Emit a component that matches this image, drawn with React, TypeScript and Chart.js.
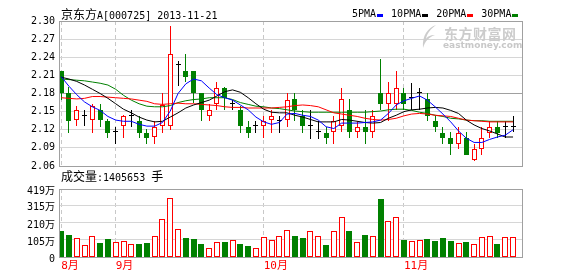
import React, { useEffect, useRef } from 'react';
import { Chart, registerables } from 'chart.js';

Chart.register(...registerables);

const stockTitleCn = '京东方';
const stockTitleCode = 'A[000725] 2013-11-21';
const volumeCaptionCn = '成交量';
const volumeCaptionValue = ':1405653 ';
const volumeCaptionUnit = '手';
const maNames = ['5PMA', '10PMA', '20PMA', '30PMA'];
const maColors = ['#0000ff', '#000000', '#ff0000', '#008000'];

const opens = [2.218,2.181,2.136,2.143,2.136,2.153,2.134,2.116,2.126,2.143,2.134,2.115,2.108,2.126,2.126,2.227,2.218,2.218,2.181,2.143,2.162,2.189,2.163,2.153,2.125,2.126,2.126,2.136,2.135,2.136,2.171,2.143,2.126,2.116,2.115,2.116,2.126,2.153,2.116,2.125,2.116,2.181,2.162,2.162,2.180,2.172,2.181,2.171,2.134,2.115,2.106,2.097,2.106,2.070,2.088,2.115,2.125,2.125,2.125];
const highs = [2.218,2.190,2.160,2.153,2.163,2.163,2.137,2.124,2.145,2.153,2.143,2.121,2.134,2.181,2.292,2.234,2.246,2.218,2.181,2.163,2.199,2.190,2.170,2.160,2.134,2.134,2.143,2.153,2.143,2.180,2.181,2.153,2.153,2.134,2.124,2.143,2.189,2.171,2.134,2.153,2.153,2.237,2.199,2.218,2.189,2.198,2.189,2.181,2.143,2.124,2.116,2.124,2.116,2.097,2.124,2.134,2.134,2.134,2.143];
const lows = [2.170,2.115,2.126,2.126,2.115,2.124,2.107,2.096,2.107,2.124,2.107,2.096,2.096,2.115,2.120,2.192,2.199,2.164,2.134,2.134,2.153,2.153,2.153,2.115,2.107,2.115,2.107,2.115,2.115,2.125,2.134,2.115,2.105,2.105,2.097,2.097,2.116,2.107,2.107,2.097,2.107,2.153,2.134,2.153,2.153,2.153,2.153,2.134,2.116,2.097,2.079,2.088,2.079,2.069,2.079,2.106,2.107,2.107,2.116];
const closes = [2.181,2.135,2.152,2.143,2.160,2.136,2.115,2.116,2.142,2.143,2.115,2.107,2.125,2.161,2.246,2.227,2.207,2.181,2.153,2.153,2.189,2.173,2.163,2.126,2.115,2.126,2.134,2.143,2.135,2.170,2.153,2.126,2.126,2.116,2.107,2.134,2.171,2.116,2.125,2.116,2.143,2.162,2.180,2.189,2.162,2.172,2.181,2.143,2.125,2.107,2.097,2.115,2.079,2.088,2.106,2.125,2.115,2.125,2.125];

const ma5 = [2.208,2.192,2.178,2.166,2.158,2.152,2.142,2.136,2.134,2.134,2.129,2.126,2.126,2.132,2.151,2.180,2.196,2.204,2.201,2.189,2.178,2.173,2.169,2.161,2.153,2.141,2.133,2.129,2.132,2.146,2.147,2.144,2.142,2.136,2.125,2.122,2.131,2.131,2.131,2.132,2.133,2.136,2.147,2.161,2.168,2.172,2.176,2.169,2.158,2.146,2.133,2.118,2.106,2.099,2.099,2.104,2.108,2.111,2.120];
const ma10 = [2.207,2.204,2.200,2.194,2.187,2.180,2.172,2.163,2.154,2.148,2.141,2.136,2.133,2.134,2.141,2.148,2.156,2.161,2.165,2.169,2.176,2.183,2.186,2.182,2.173,2.163,2.154,2.149,2.148,2.148,2.144,2.141,2.137,2.133,2.133,2.133,2.137,2.136,2.134,2.132,2.131,2.132,2.139,2.144,2.150,2.153,2.154,2.156,2.157,2.156,2.152,2.147,2.136,2.128,2.122,2.118,2.113,2.108,2.108];
const ma20 = [2.173,2.172,2.171,2.172,2.175,2.175,2.174,2.173,2.172,2.171,2.169,2.167,2.163,2.162,2.163,2.164,2.163,2.163,2.162,2.161,2.160,2.158,2.157,2.157,2.156,2.156,2.156,2.156,2.157,2.158,2.160,2.161,2.160,2.158,2.153,2.148,2.146,2.144,2.142,2.139,2.137,2.136,2.137,2.139,2.143,2.146,2.147,2.146,2.144,2.143,2.142,2.139,2.136,2.135,2.134,2.133,2.133,2.133,2.133];
const ma30 = [2.204,2.203,2.202,2.201,2.199,2.197,2.194,2.187,2.177,2.169,2.163,2.159,2.158,2.158,2.160,2.165,2.168,2.170,2.171,2.173,2.173,2.173,2.170,2.165,2.162,2.159,2.158,2.156,2.155,2.153,2.151,2.150,2.149,2.149,2.149,2.149,2.149,2.149,2.149,2.149,2.150,2.151,2.153,2.154,2.154,2.152,2.149,2.147,2.144,2.142,2.139,2.138,2.136,2.135,2.135,2.134,2.134,2.134,2.134];

const volumes = [160.7,136,115.3,74,127.7,86.5,111,90.6,96.8,78.3,80.3,86.5,127.7,233,362.7,171,117.4,111,80.3,53.5,90.6,92.7,103,80.3,68,53.5,123.6,105,127.7,165,129.8,117.4,158.6,127.7,74,158.6,245,160.7,90.6,136,127.7,358.4,220.5,245,105,96.8,103,111,98.9,117.4,98.9,84.5,92.7,78.3,123.6,127.7,80.3,123.6,123.6];

const priceTicks = [2.06, 2.09, 2.12, 2.15, 2.18, 2.21, 2.24, 2.27, 2.30];
const priceMidTick = 2.18;
const volumeTicks = [0, 105, 210, 315, 419];
const monthStarts = [0, 7, 26, 44];
const monthLabels = ['8月', '9月', '10月', '11月'];

const UP = '#ff0000';
const DOWN = '#008000';
const FLAT = '#000000';
const MONO = "'DejaVu Sans Mono', 'Noto Sans CJK SC', monospace";
const CJK = "'Noto Sans CJK SC', sans-serif";

const idx = closes.map((_, i) => i);
const kind = (i: number) => (closes[i] > opens[i] ? 'up' : closes[i] < opens[i] ? 'down' : 'flat');
const lineColor = (i: number) => (kind(i) === 'up' ? UP : kind(i) === 'down' ? DOWN : FLAT);

const framePlugin = {
  id: 'frame',
  afterDraw(chart: any) {
    const { ctx, chartArea } = chart;
    const l = Math.round(chartArea.left) + 0.5;
    const t = Math.round(chartArea.top) + 0.5;
    const r = Math.round(chartArea.right) + 0.5;
    const b = Math.round(chartArea.bottom) + 0.5;
    ctx.save();
    ctx.strokeStyle = '#a0a0a0';
    ctx.lineWidth = 1;
    ctx.strokeRect(l, t, r - l, b - t);
    ctx.restore();
  },
};

// snap bar elements computed by the scales onto whole device pixels for crisp edges
const snapPlugin = {
  id: 'snap',
  beforeDatasetsDraw(chart: any) {
    chart.data.datasets.forEach((ds: any, di: number) => {
      const meta = chart.getDatasetMeta(di);
      if (meta.type !== 'bar') return;
      const odd = (ds.barThickness || 0) % 2 === 1;
      meta.data.forEach((el: any) => {
        el.x = odd ? Math.floor(el.x) + 0.5 : Math.round(el.x);
        el.y = Math.round(el.y);
        el.base = Math.round(el.base);
      });
    });
  },
};

const xRange = { min: -0.28, max: 59.15 };

export default function App() {
  const mainRef = useRef<HTMLCanvasElement>(null);
  const volRef = useRef<HTMLCanvasElement>(null);

  useEffect(() => {
    const lineDs = [ma5, ma10, ma20, ma30].map((arr, k) => ({
      type: 'line' as const,
      label: maNames[k],
      data: idx.map((i) => ({ x: i, y: arr[i] })),
      borderColor: maColors[k],
      borderWidth: 1,
      pointRadius: 0,
      tension: 0,
      order: 0,
    }));

    const main = new Chart(mainRef.current!, {
      type: 'bar',
      data: {
        datasets: [
          ...lineDs,
          {
            type: 'bar',
            label: 'body',
            data: idx.map((i) => ({ x: i, y: [opens[i], closes[i]] })) as any,
            backgroundColor: idx.map((i) => (kind(i) === 'up' ? '#ffffff' : lineColor(i))),
            borderColor: idx.map((i) => lineColor(i)),
            borderWidth: idx.map((i) => (kind(i) === 'flat' ? 0 : 1)) as any,
            borderSkipped: false,
            barThickness: 5,
            minBarLength: 1,
            grouped: false,
            inflateAmount: 0,
            order: 1,
          } as any,
          {
            type: 'bar',
            label: 'wick',
            data: idx.map((i) => ({ x: i, y: [lows[i], highs[i]] })) as any,
            backgroundColor: idx.map((i) => lineColor(i)),
            borderWidth: 0,
            barThickness: 1,
            grouped: false,
            inflateAmount: 0,
            order: 2,
          } as any,
        ],
      },
      options: {
        responsive: false,
        animation: false,
        devicePixelRatio: 1,
        events: [],
        layout: { padding: { left: 0, top: 21, right: 56, bottom: 4 } },
        plugins: { legend: { display: false }, tooltip: { enabled: false } },
        scales: {
          x: {
            type: 'linear',
            min: xRange.min,
            max: xRange.max,
            offset: false,
            afterBuildTicks: (s: any) => {
              s.ticks = monthStarts.map((v) => ({ value: v }));
            },
            afterFit: (s: any) => {
              s.height = 0;
              s.paddingLeft = 0;
              s.paddingRight = 0;
            },
            ticks: { display: false },
            grid: { color: '#c8c8c8', drawTicks: false, offset: false, lineWidth: 1 },
            border: { display: false, dash: [4, 3] },
          },
          y: {
            type: 'linear',
            min: priceTicks[0],
            max: priceTicks[priceTicks.length - 1],
            afterBuildTicks: (s: any) => {
              s.ticks = priceTicks.map((v) => ({ value: v }));
            },
            afterFit: (s: any) => {
              s.width = 59;
              s.paddingTop = 0;
              s.paddingBottom = 0;
            },
            ticks: {
              callback: (v: any) => Number(v).toFixed(2),
              font: { family: MONO, size: 10 },
              color: '#000',
              padding: 4,
              autoSkip: false,
            },
            grid: {
              drawTicks: false,
              color: (c: any) =>
                c.tick && Math.abs(c.tick.value - priceMidTick) < 1e-6 ? '#a0a0a0' : '#d6d6d6',
            },
            border: { display: false },
          },
        },
      } as any,
      plugins: [snapPlugin, framePlugin],
    });

    const vol = new Chart(volRef.current!, {
      type: 'bar',
      data: {
        datasets: [
          {
            label: 'volume',
            data: idx.map((i) => ({ x: i, y: volumes[i] })) as any,
            backgroundColor: idx.map((i) => (kind(i) === 'down' ? DOWN : '#ffffff')),
            borderColor: idx.map((i) => (kind(i) === 'down' ? DOWN : UP)),
            borderWidth: 1,
            borderSkipped: false,
            barThickness: 6,
            grouped: false,
            inflateAmount: 0,
          } as any,
        ],
      },
      options: {
        responsive: false,
        animation: false,
        devicePixelRatio: 1,
        events: [],
        layout: { padding: { left: 0, top: 9, right: 56, bottom: 0 } },
        plugins: { legend: { display: false }, tooltip: { enabled: false } },
        scales: {
          x: {
            type: 'linear',
            min: xRange.min,
            max: xRange.max,
            offset: false,
            afterBuildTicks: (s: any) => {
              s.ticks = monthStarts.map((v) => ({ value: v }));
            },
            afterFit: (s: any) => {
              s.height = 19;
              s.paddingLeft = 0;
              s.paddingRight = 0;
            },
            ticks: {
              callback: (_v: any, i: number) => monthLabels[i],
              align: 'start',
              color: '#ff0000',
              font: { family: MONO, size: 11 },
              padding: 3,
              autoSkip: false,
              maxRotation: 0,
            },
            grid: { color: '#c8c8c8', drawTicks: false, offset: false, lineWidth: 1 },
            border: { display: false, dash: [4, 3] },
          },
          y: {
            type: 'linear',
            min: volumeTicks[0],
            max: volumeTicks[volumeTicks.length - 1],
            afterBuildTicks: (s: any) => {
              s.ticks = volumeTicks.map((v) => ({ value: v }));
            },
            afterFit: (s: any) => {
              s.width = 59;
              s.paddingTop = 0;
              s.paddingBottom = 0;
            },
            ticks: {
              callback: (v: any) => (Number(v) === 0 ? '0' : `${v}万`),
              font: { family: MONO, size: 10 },
              color: '#000',
              padding: 4,
              labelOffset: 2,
              autoSkip: false,
            },
            grid: { drawTicks: false, color: '#d6d6d6' },
            border: { display: false },
          },
        },
      } as any,
      plugins: [snapPlugin, framePlugin],
    });

    return () => {
      main.destroy();
      vol.destroy();
    };
  }, []);

  return (
    <div
      style={{
        position: 'fixed',
        left: 0,
        top: 0,
        width: 578,
        height: 276,
        background: '#ffffff',
        overflow: 'hidden',
      }}
    >
      <canvas
        ref={mainRef}
        width={578}
        height={170}
        style={{ position: 'absolute', left: 0, top: 0, width: 578, height: 170 }}
      />
      <canvas
        ref={volRef}
        width={578}
        height={96}
        style={{ position: 'absolute', left: 0, top: 180, width: 578, height: 96 }}
      />
      <div
        style={{
          position: 'absolute',
          left: 61,
          top: 6,
          lineHeight: '16px',
          whiteSpace: 'nowrap',
          color: '#000',
        }}
      >
        <span style={{ fontFamily: CJK, fontSize: 12 }}>{stockTitleCn}</span>
        <span style={{ fontFamily: MONO, fontSize: 10 }}>{stockTitleCode}</span>
      </div>
      <div
        style={{
          position: 'absolute',
          left: 352,
          top: 8,
          display: 'flex',
          gap: 8,
          alignItems: 'center',
          whiteSpace: 'nowrap',
        }}
      >
        {maNames.map((n, k) => (
          <span key={n} style={{ display: 'inline-flex', alignItems: 'center' }}>
            <span style={{ fontFamily: MONO, fontSize: 10, lineHeight: '12px', color: '#000' }}>{n}</span>
            <span
              style={{
                display: 'inline-block',
                width: 6,
                height: 3,
                marginLeft: 1,
                marginTop: 2,
                background: maColors[k],
              }}
            />
          </span>
        ))}
      </div>
      <svg
        width={20}
        height={26}
        style={{ position: 'absolute', left: 419, top: 24 }}
        viewBox="0 0 20 26"
      >
        <path
          d="M17 1 C9 4 3 11 4 24 C6 17 10 13 16 11 C11 11 8 13 7 15 C8 9 12 5 17 1 Z"
          fill="#cccccc"
        />
      </svg>
      <div
        style={{
          position: 'absolute',
          left: 444,
          top: 24,
          fontFamily: CJK,
          fontWeight: 'bold',
          fontSize: 14,
          letterSpacing: 0.5,
          lineHeight: '18px',
          color: '#cccccc',
          whiteSpace: 'nowrap',
        }}
      >
        东方财富网
      </div>
      <div
        style={{
          position: 'absolute',
          left: 443,
          top: 40,
          fontFamily: "'DejaVu Sans', sans-serif",
          fontWeight: 'bold',
          fontSize: 9,
          lineHeight: '11px',
          color: '#c8c8c8',
          whiteSpace: 'nowrap',
        }}
      >
        eastmoney.com
      </div>
      <div
        style={{
          position: 'absolute',
          left: 61,
          top: 169,
          lineHeight: '14px',
          whiteSpace: 'nowrap',
          color: '#000',
        }}
      >
        <span style={{ fontFamily: CJK, fontSize: 12 }}>{volumeCaptionCn}</span>
        <span style={{ fontFamily: MONO, fontSize: 10 }}>{volumeCaptionValue}</span>
        <span style={{ fontFamily: CJK, fontSize: 12 }}>{volumeCaptionUnit}</span>
      </div>
    </div>
  );
}
